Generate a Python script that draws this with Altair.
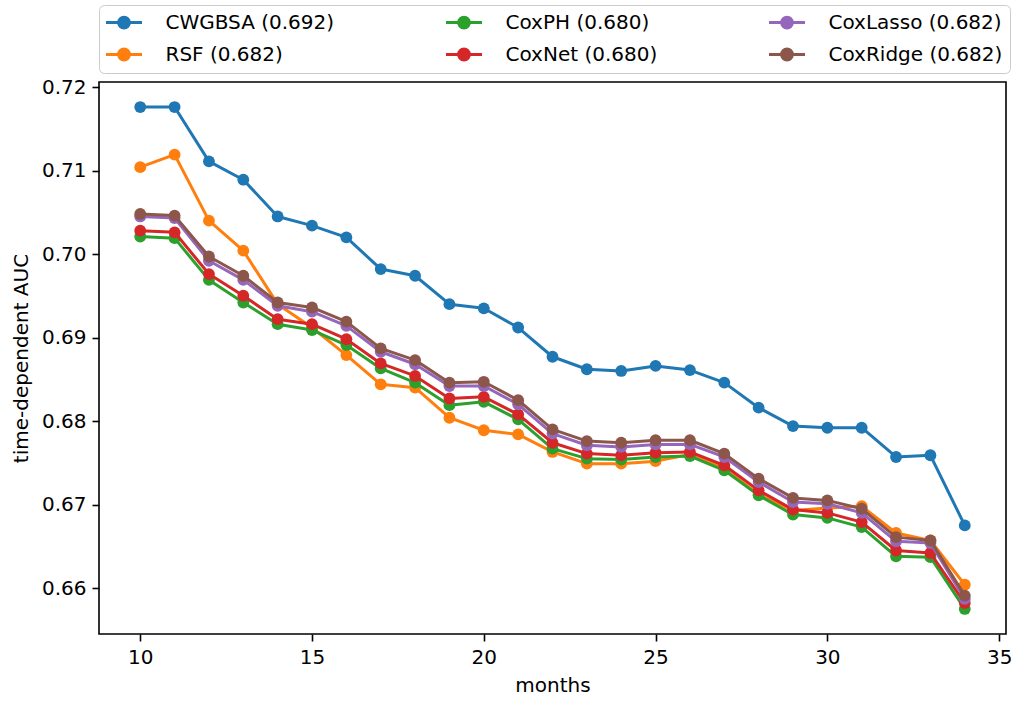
import altair as alt
import pandas as pd

# Evaluation horizon in months
months = list(range(10, 35))

# Models, their integrated AUC (shown in the legend) and colours
models = ["CWGBSA", "RSF", "CoxPH", "CoxNet", "CoxLasso", "CoxRidge"]
integrated_auc = [0.692, 0.682, 0.680, 0.680, 0.682, 0.682]
colors = ["#1f77b4", "#ff7f0e", "#2ca02c", "#d62728", "#9467bd", "#8c564b"]

# Time-dependent AUC per month
cwgbsa = [0.7176, 0.7176, 0.7111, 0.7089, 0.7045, 0.7034, 0.7020, 0.6982, 0.6974,
          0.6940, 0.6935, 0.6912, 0.6877, 0.6862, 0.6860, 0.6866, 0.6861, 0.6846,
          0.6816, 0.6794, 0.6792, 0.6792, 0.6757, 0.6759, 0.6675]
rsf = [0.7104, 0.7119, 0.7040, 0.7004, 0.6940, 0.6912, 0.6879, 0.6844, 0.6840,
       0.6804, 0.6789, 0.6784, 0.6763, 0.6749, 0.6749, 0.6752, 0.6760, 0.6744,
       0.6712, 0.6693, 0.6696, 0.6698, 0.6666, 0.6657, 0.6604]
coxph = [0.7021, 0.7019, 0.6969, 0.6942, 0.6916, 0.6909, 0.6891, 0.6863, 0.6846,
         0.6819, 0.6823, 0.6802, 0.6767, 0.6755, 0.6754, 0.6757, 0.6758, 0.6741,
         0.6711, 0.6688, 0.6684, 0.6673, 0.6638, 0.6637, 0.6575]
coxnet = [0.7028, 0.7026, 0.6976, 0.6950, 0.6922, 0.6916, 0.6898, 0.6869, 0.6854,
          0.6827, 0.6829, 0.6808, 0.6774, 0.6761, 0.6759, 0.6762, 0.6763, 0.6747,
          0.6717, 0.6694, 0.6690, 0.6679, 0.6645, 0.6642, 0.6582]
coxlasso = [0.7045, 0.7043, 0.6992, 0.6969, 0.6938, 0.6931, 0.6914, 0.6883, 0.6868,
            0.6842, 0.6842, 0.6820, 0.6785, 0.6771, 0.6769, 0.6772, 0.6772, 0.6757,
            0.6727, 0.6703, 0.6701, 0.6690, 0.6656, 0.6654, 0.6587]
coxridge = [0.7048, 0.7046, 0.6997, 0.6974, 0.6942, 0.6936, 0.6919, 0.6887, 0.6873,
            0.6846, 0.6847, 0.6825, 0.6790, 0.6776, 0.6774, 0.6777, 0.6777, 0.6761,
            0.6731, 0.6708, 0.6705, 0.6695, 0.6661, 0.6657, 0.6591]

series = [cwgbsa, rsf, coxph, coxnet, coxlasso, coxridge]
labels = [f"{m} ({a:.3f})" for m, a in zip(models, integrated_auc)]

rows = []
for lab, vals in zip(labels, series):
    for mo, v in zip(months, vals):
        rows.append({"model": lab, "month": mo, "auc": v})
df = pd.DataFrame(rows)

FONT = "DejaVu Sans"
# line with a circle in the middle, as a legend handle
handle = ("M-2,0L2,0M-0.6,0A0.6,0.6,0,1,0,0.6,0"
          "A0.6,0.6,0,1,0,-0.6,0Z")

x = alt.X("month:Q",
          scale=alt.Scale(domain=[8.8, 35.2], nice=False, zero=False),
          axis=alt.Axis(values=[10, 15, 20, 25, 30, 35], title="months"))
y = alt.Y("auc:Q",
          scale=alt.Scale(domain=[0.6545, 0.7206], nice=False, zero=False),
          axis=alt.Axis(values=[0.66, 0.67, 0.68, 0.69, 0.70, 0.71, 0.72],
                        format=".2f", title="time-dependent AUC"))
color = alt.Color(
    "model:N",
    scale=alt.Scale(domain=labels, range=colors),
    legend=alt.Legend(
        title=None, orient="none", legendX=0, legendY=-77, columns=3,
        columnPadding=105, rowPadding=9, padding=7,
        symbolType=handle, symbolSize=324, symbolStrokeWidth=3,
        symbolOffset=7.5, labelOffset=31,
        labelFont=FONT, labelFontSize=20, labelColor="black", labelLimit=400,
        fillColor="white", strokeColor="#cccccc", cornerRadius=5,
    ),
)

base = alt.Chart(df)
layers = []
for lab in labels:
    sub = base.transform_filter(alt.datum.model == lab)
    layers.append(sub.mark_line(strokeWidth=3, strokeJoin="round").encode(x=x, y=y, color=color))
    layers.append(sub.mark_point(filled=True, size=140, opacity=1, strokeWidth=0)
                  .encode(x=x, y=y, color=color))

chart = (
    alt.layer(*layers)
    .properties(
        width=907, height=552,
        autosize=alt.AutoSizeParams(type="none"),
        padding={"left": 99, "top": 82, "right": 13, "bottom": 68},
    )
    .configure_view(stroke="black", strokeWidth=1.6)
    .configure_axis(
        domain=False, grid=False,
        tickColor="black", tickSize=7, tickWidth=1.6,
        labelFont=FONT, labelFontSize=20, labelColor="black", labelPadding=6,
        titleFont=FONT, titleFontSize=20, titleFontWeight="normal", titleColor="black",
    )
    .configure_axisX(titlePadding=8)
    .configure_axisY(titlePadding=10)
)

chart.save("out.html", embed_options={"renderer": "svg", "actions": False})
